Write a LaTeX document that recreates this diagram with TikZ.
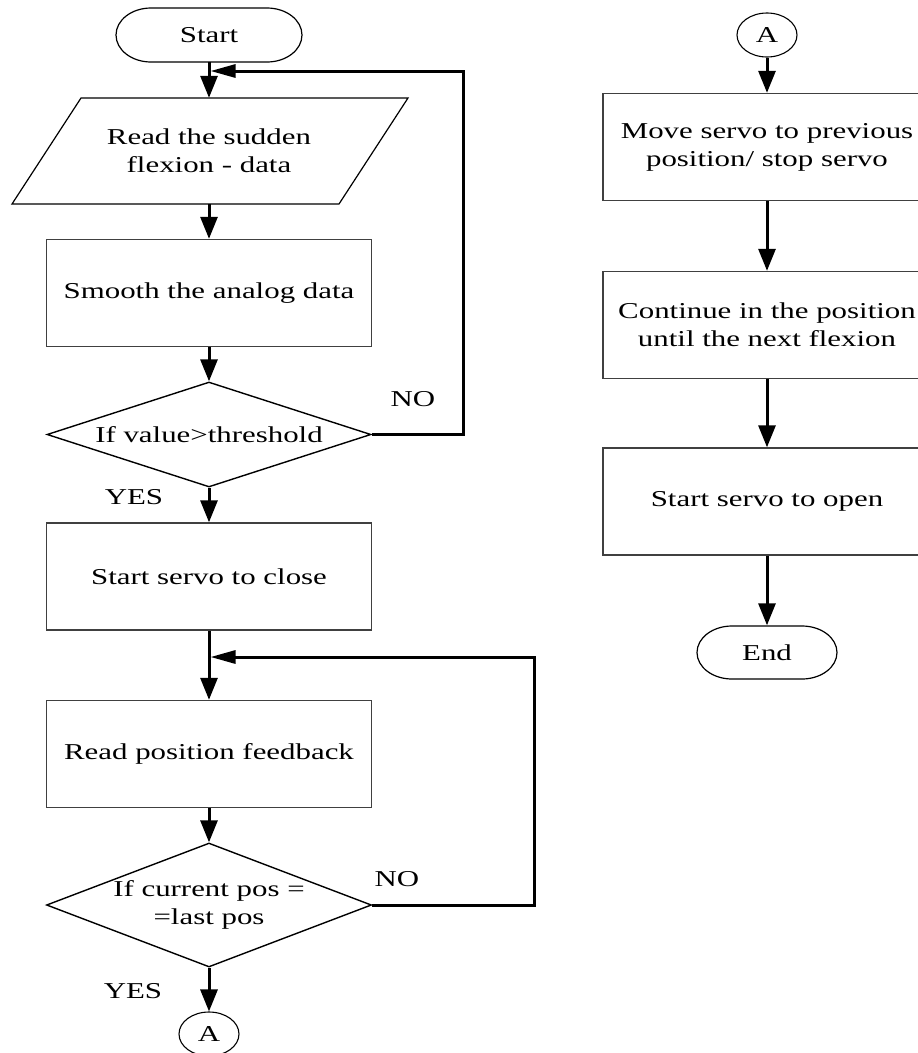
\documentclass[tikz,border=0pt]{standalone}
\usepackage{fontspec}
\setmainfont{Liberation Serif}[FakeStretch=1.36]
\usetikzlibrary{arrows.meta,shapes.geometric}
\definecolor{boxgray}{RGB}{64,64,64}

\begin{document}
\begin{tikzpicture}[x=1pt,y=-1pt,
  txt/.style={font=\fontsize{22.7}{28}\selectfont, align=center, text=black},
  procbox/.style={txt, draw=boxgray, line width=1.4pt, inner sep=0pt,
    minimum width=325pt, minimum height=107pt},
  rprocbox/.style={procbox, minimum width=328pt},
  decision/.style={txt, diamond, draw=black, line width=1.4pt, inner sep=0pt},
  connector/.style={txt, ellipse, draw=black, line width=1.1pt, inner sep=0pt,
    minimum width=60pt, minimum height=44pt},
  termtext/.style={txt, inner sep=0pt, minimum width=186pt, minimum height=54pt},
  outline/.style={draw=black, line width=1.2pt},
  flow/.style={line width=3pt, -{Triangle[length=22pt,width=17pt]}},
  backflow/.style={line width=3pt, -{Triangle[length=25pt,width=13pt]}}
]
\useasboundingbox (0,0) rectangle (918,1053);

% ---------- left column ----------
\node[termtext] (start) at (209,35) {Start};
\draw[outline] (151,8) -- (267,8)
  arc[start angle=-90,end angle=90,x radius=35,y radius=27] -- (151,62)
  arc[start angle=90,end angle=270,x radius=35,y radius=27] -- cycle;

\node[txt, inner sep=0pt, minimum width=250pt, minimum height=106pt] (read) at (209,151)
  {Read the sudden\\flexion - data};
\draw[outline] (81,98) -- (408,98) -- (339,204) -- (12,204) -- cycle;

\node[procbox] (smooth) at (209,293) {Smooth the analog data};

\node[decision, aspect=3.09, minimum width=324pt, minimum height=105pt] (d1) at (209,434.5)
  {If value>threshold};

\node[procbox] (close) at (209,576.5) {Start servo to close};

\node[procbox] (feedback) at (209,754) {Read position feedback};

\node[decision, aspect=2.62, minimum width=325pt, minimum height=124pt] (d2) at (209,905)
  {If current pos =\\=last pos};

\node[connector] (a1) at (209,1034) {A};

% decision labels
\node[txt] (no1) at (413,399) {NO};
\node[txt] (yes1) at (134,497) {YES};
\node[txt] (no2) at (397,879) {NO};
\node[txt] (yes2) at (133,991) {YES};

% ---------- right column ----------
\node[connector] (a2) at (767,35) {A};
\node[rprocbox] (move) at (767,147) {Move servo to previous\\position/ stop servo};
\node[rprocbox] (cont) at (767,325) {Continue in the position\\until the next flexion};
\node[rprocbox] (open) at (767,501.5) {Start servo to open};

\node[termtext] (end) at (767,652.5) {End};
\draw[outline] (732,626) -- (802,626)
  arc[start angle=-90,end angle=90,x radius=35,y radius=26.5] -- (732,679)
  arc[start angle=90,end angle=270,x radius=35,y radius=26.5] -- cycle;

% ---------- connectors ----------
\coordinate (j1) at (210.5,71);
\coordinate (j2) at (210.5,657);

\draw[flow] (start.south) -- (read.north);
\draw[flow] (read.south) -- (smooth.north);
\draw[flow] (smooth.south) -- (d1.north);
\draw[flow] (d1.south) -- (close.north);
\draw[flow] (close.south) -- (feedback.north);
\draw[flow] (feedback.south) -- (d2.north);
\draw[flow] (d2.south) -- (a1.north);

\draw[backflow] (d1.east) -- ++(92,0) |- (j1);
\draw[backflow] (d2.east) -- ++(162,0) |- (j2);

\draw[flow] (a2.south) -- (move.north);
\draw[flow] (move.south) -- (cont.north);
\draw[flow] (cont.south) -- (open.north);
\draw[flow] (open.south) -- (end.north);
\end{tikzpicture}
\end{document}
